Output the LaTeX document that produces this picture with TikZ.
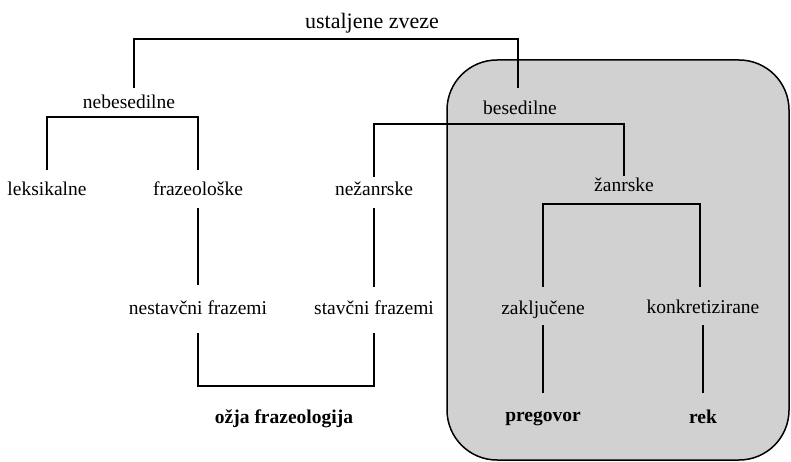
\documentclass[tikz,border=0pt]{standalone}
\usepackage{fontspec}
\setmainfont{Liberation Serif}
\begin{document}
\begin{tikzpicture}[x=1pt,y=-1pt,
		lbl/.style={inner sep=0pt,anchor=base,text height=14pt,text depth=4pt,font=\fontsize{19.5}{23}\selectfont},
		lblb/.style={lbl,font=\fontsize{19.5}{23}\selectfont\bfseries},
		conn/.style={line width=1.7pt}]
		\useasboundingbox (0,0) rectangle (791,462);
		% siva skupina
		\draw[line width=1.5pt,fill=black!18,rounded corners=50pt] (447,60) rectangle (789,460);
		% oznake
		\node[lbl,font=\fontsize{22}{26}\selectfont] (ust) at (372,29) {ustaljene zveze};
		\node[lbl] (neb) at (129,109) {nebesedilne};
		\node[lbl] (bes) at (520,115) {besedilne};
		\node[lbl] (leks) at (47,196) {leksikalne};
		\node[lbl] (fraz) at (198,196) {frazeološke};
		\node[lbl] (nez) at (374,196) {nežanrske};
		\node[lbl] (zan) at (624,192) {žanrske};
		\node[lbl] (nest) at (198,314) {nestavčni frazemi};
		\node[lbl] (stav) at (374,314) {stavčni frazemi};
		\node[lbl] (zak) at (543,314) {zaključene};
		\node[lbl] (kon) at (703,313) {konkretizirane};
		\node[lblb] (ozja) at (284,423) {ožja frazeologija};
		\node[lblb] (preg) at (543,421) {pregovor};
		\node[lblb] (rek) at (703,423) {rek};
		% povezave
		\draw[conn,shorten <=7pt,shorten >=13pt] ([xshift=5pt]neb.north) |- ([yshift=-6pt]ust.south) -| ([xshift=-2pt]bes.north);
		\draw[conn,shorten <=12pt,shorten >=12pt] (leks.north) |- ([yshift=-4pt]neb.south) -| (fraz.north);
		\draw[conn,shorten <=5pt,shorten >=1.5pt] (nez.north) |- ([yshift=-5pt]bes.south) -| (zan.north);
		\draw[conn,shorten <=13pt,shorten >=12pt] (zak.north) |- ([yshift=-7.5pt]zan.south) -| ([xshift=-3pt]kon.north);
		\draw[conn,shorten <=8pt,shorten >=15pt] (fraz.south) -- (nest.north);
		\draw[conn,shorten <=8pt,shorten >=13pt] (nez.south) -- (stav.north);
		\draw[conn] ([yshift=-15pt]nest.south) |- ([yshift=23pt]ozja.north) -| ([yshift=-15pt]stav.south);
		\draw[conn,shorten <=7pt,shorten >=14pt] (zak.south) -- (preg.north);
		\draw[conn,shorten <=8pt,shorten >=16pt] (kon.south) -- (rek.north);
	\end{tikzpicture}
\end{document}
